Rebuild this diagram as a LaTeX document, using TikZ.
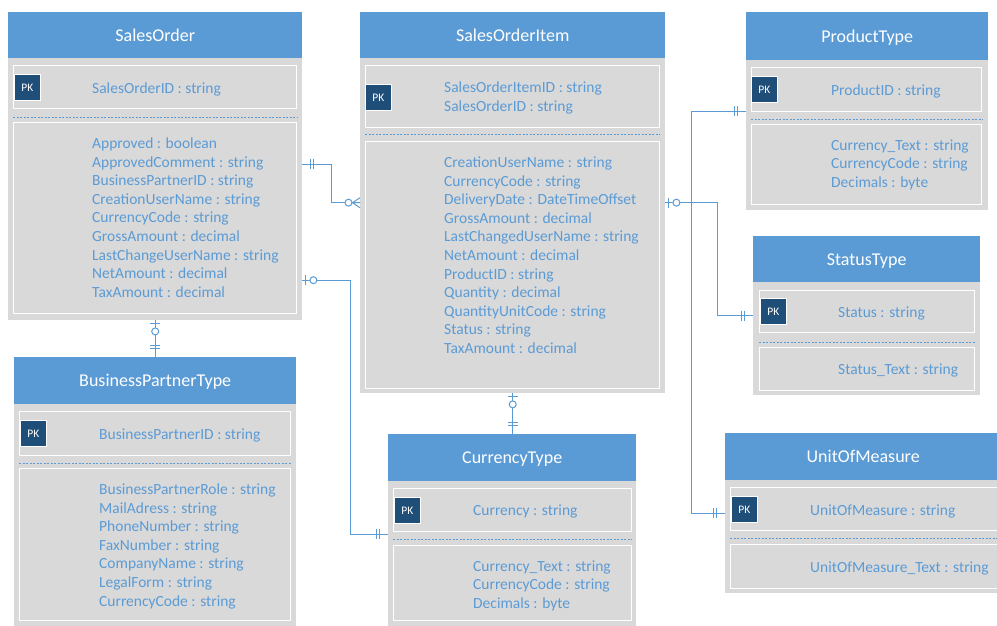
\documentclass[tikz,border=0pt]{standalone}
\usepackage{fontspec}
\setmainfont{Carlito}
\usepackage{tikz}

\definecolor{headblue}{HTML}{5B9BD5}
\definecolor{boxgray}{HTML}{D9D9D9}
\definecolor{pkblue}{HTML}{1F4E79}
\definecolor{txtblue}{HTML}{5B9BD5}

\tikzset{
	entity/.style={rectangle, fill=boxgray, anchor=north west, inner sep=0pt},
	head/.style={rectangle, fill=headblue, text=white, anchor=north west, inner sep=0pt, text depth=0pt, font=\fontsize{18}{22}\selectfont},
	field/.style={rectangle, draw=white, line width=1.2pt, fill=boxgray, anchor=north west, inner sep=0pt},
	pk/.style={rectangle, draw=white, line width=0.8pt, fill=pkblue, text=white, anchor=north west, minimum size=26pt, inner sep=0pt, font=\fontsize{11.5}{13}\selectfont},
	attr/.style={text=txtblue, anchor=north west, align=left, inner sep=0pt, font=\fontsize{15.5}{18.6}\selectfont, execute at begin node=\strut},
	sep/.style={draw=txtblue, line width=0.9pt, dash pattern=on 2pt off 1.5pt},
	rel/.style={draw=headblue, line width=1pt},
	pics/mandone/.style={code={\draw[rel] (8.5,-5) -- (8.5,5) (11.5,-5) -- (11.5,5);}},
	pics/optone/.style={code={\draw[rel] (3.3,-5) -- (3.3,5); \draw[rel, fill=white] (11,0) circle (3.5);}},
	pics/optmany/.style={code={\draw[rel] (0,5) -- (7.5,0) -- (0,-5) (0,0) -- (7.5,0); \draw[rel, fill=white] (11.5,0) circle (3.5);}}
}

\begin{document}
\begin{tikzpicture}[x=1pt, y=1pt]
			\clip (0,0) rectangle (997,-625);
			\fill[white] (0,0) rectangle (997,-625);

			% SalesOrder
			\node[entity, minimum width=294, minimum height=308] (so) at (8,-12) {};
			\node[head, minimum width=294, minimum height=46] (soHead) at (8,-12) {SalesOrder};
			\node[field, minimum width=283, minimum height=43] (soKey) at (13,-65) {};
			\node[pk] (soPK) at (14,-74) {PK};
			\node[attr] (soKeyText) at (92,-80) {SalesOrderID : string};
			\draw[sep] ([yshift=-8pt]soKey.south west) -- ([yshift=-8pt]soKey.south east);
			\node[field, minimum width=283, minimum height=191] (soAttr) at (13,-122) {};
			\node[attr] (soAttrText) at (92,-137.5) {Approved : boolean\\ApprovedComment : string\\BusinessPartnerID : string\\CreationUserName : string\\CurrencyCode : string\\GrossAmount : decimal\\LastChangeUserName : string\\NetAmount : decimal\\TaxAmount : decimal};

			% SalesOrderItem
			\node[entity, minimum width=305, minimum height=381] (soi) at (360,-12) {};
			\node[head, minimum width=305, minimum height=46] (soiHead) at (360,-12) {SalesOrderItem};
			\node[field, minimum width=294, minimum height=62] (soiKey) at (365,-65) {};
			\node[pk] (soiPK) at (365,-84) {PK};
			\node[attr] (soiKeyText) at (444,-81.5) {SalesOrderItemID : string\\SalesOrderID : string};
			\draw[sep] ([yshift=-6pt]soiKey.south west) -- ([yshift=-6pt]soiKey.south east);
			\node[field, minimum width=294, minimum height=247] (soiAttr) at (365,-141) {};
			\node[attr] (soiAttrText) at (444,-156.5) {CreationUserName : string\\CurrencyCode : string\\DeliveryDate : DateTimeOffset\\GrossAmount : decimal\\LastChangedUserName : string\\NetAmount : decimal\\ProductID : string\\Quantity : decimal\\QuantityUnitCode : string\\Status : string\\TaxAmount : decimal};

			% ProductType
			\node[entity, minimum width=242, minimum height=198] (pt) at (746,-12) {};
			\node[head, minimum width=242, minimum height=48] (ptHead) at (746,-12) {ProductType};
			\node[field, minimum width=230, minimum height=44] (ptKey) at (751,-67) {};
			\node[pk] (ptPK) at (751,-76) {PK};
			\node[attr] (ptKeyText) at (831,-82) {ProductID : string};
			\draw[sep] ([yshift=-7pt]ptKey.south west) -- ([yshift=-7pt]ptKey.south east);
			\node[field, minimum width=230, minimum height=80] (ptAttr) at (751,-124) {};
			\node[attr] (ptAttrText) at (831,-139.5) {Currency\_Text : string\\CurrencyCode : string\\Decimals : byte};

			% StatusType
			\node[entity, minimum width=227, minimum height=159] (st) at (753,-236) {};
			\node[head, minimum width=227, minimum height=46] (stHead) at (753,-236) {StatusType};
			\node[field, minimum width=215, minimum height=42] (stKey) at (759,-290) {};
			\node[pk] (stPK) at (760,-298) {PK};
			\node[attr] (stKeyText) at (838,-304) {Status : string};
			\draw[sep] ([yshift=-9pt]stKey.south west) -- ([yshift=-9pt]stKey.south east);
			\node[field, minimum width=215, minimum height=43] (stAttr) at (759,-347) {};
			\node[attr] (stAttrText) at (838,-361) {Status\_Text : string};

			% BusinessPartnerType
			\node[entity, minimum width=282, minimum height=275] (bp) at (14,-357) {};
			\node[head, minimum width=282, minimum height=47] (bpHead) at (14,-357) {BusinessPartnerType};
			\node[field, minimum width=271, minimum height=44] (bpKey) at (19,-411) {};
			\node[pk] (bpPK) at (20,-420) {PK};
			\node[attr] (bpKeyText) at (99,-426) {BusinessPartnerID : string};
			\draw[sep] ([yshift=-7pt]bpKey.south west) -- ([yshift=-7pt]bpKey.south east);
			\node[field, minimum width=271, minimum height=152] (bpAttr) at (19,-468) {};
			\node[attr] (bpAttrText) at (99,-483.5) {BusinessPartnerRole : string\\MailAdress : string\\PhoneNumber : string\\FaxNumber : string\\CompanyName : string\\LegalForm : string\\CurrencyCode : string};

			% CurrencyType
			\node[entity, minimum width=248, minimum height=200] (ct) at (388,-434) {};
			\node[head, minimum width=248, minimum height=47] (ctHead) at (388,-434) {CurrencyType};
			\node[field, minimum width=238, minimum height=43] (ctKey) at (393,-488) {};
			\node[pk] (ctPK) at (394,-497) {PK};
			\node[attr] (ctKeyText) at (473,-502) {Currency : string};
			\draw[sep] ([yshift=-7pt]ctKey.south west) -- ([yshift=-7pt]ctKey.south east);
			\node[field, minimum width=238, minimum height=75] (ctAttr) at (393,-545) {};
			\node[attr] (ctAttrText) at (473,-560.5) {Currency\_Text : string\\CurrencyCode : string\\Decimals : byte};

			% UnitOfMeasure
			\node[entity, minimum width=276, minimum height=160] (um) at (725,-433) {};
			\node[head, minimum width=276, minimum height=47] (umHead) at (725,-433) {UnitOfMeasure};
			\node[field, minimum width=272, minimum height=43] (umKey) at (730,-487) {};
			\node[pk] (umPK) at (731,-496) {PK};
			\node[attr] (umKeyText) at (810,-502) {UnitOfMeasure : string};
			\draw[sep] ([yshift=-7pt]umKey.south west) -- ([yshift=-7pt]umKey.south east);
			\node[field, minimum width=272, minimum height=44] (umAttr) at (730,-544) {};
			\node[attr] (umAttrText) at (810,-559) {UnitOfMeasure\_Text : string};

			% relations
			\draw[rel] ([yshift=2pt]so.east) -- ++(29,0) |- (soi.west);
			\draw[rel] ([yshift=-114pt]so.east) -- ++(48,0) |- (ct.west);
			\draw[rel] (so.south) -- (bp.north);
			\draw[rel] (soi.south) -- (soi.south |- ct.north);
			\draw[rel] (soi.east) -- ++(26,0) |- (pt.west);
			\draw[rel] (soi.east) -- ++(52,0) |- (st.west);
			\draw[rel] (soi.east) -- ++(26,0) |- (um.west);

			\pic at ([yshift=2pt]so.east) {mandone};
			\pic[rotate=180] at (soi.west) {optmany};
			\pic at ([yshift=-114pt]so.east) {optone};
			\pic[rotate=180] at (ct.west) {mandone};
			\pic[rotate=-90] at (so.south) {optone};
			\pic[rotate=90] at (bp.north) {mandone};
			\pic[rotate=-90] at (soi.south) {optone};
			\pic[rotate=90] at (soi.south |- ct.north) {mandone};
			\pic at (soi.east) {optone};
			\pic[rotate=180] at (pt.west) {mandone};
			\pic[rotate=180] at (st.west) {mandone};
			\pic[rotate=180] at (um.west) {mandone};
		\end{tikzpicture}
\end{document}
